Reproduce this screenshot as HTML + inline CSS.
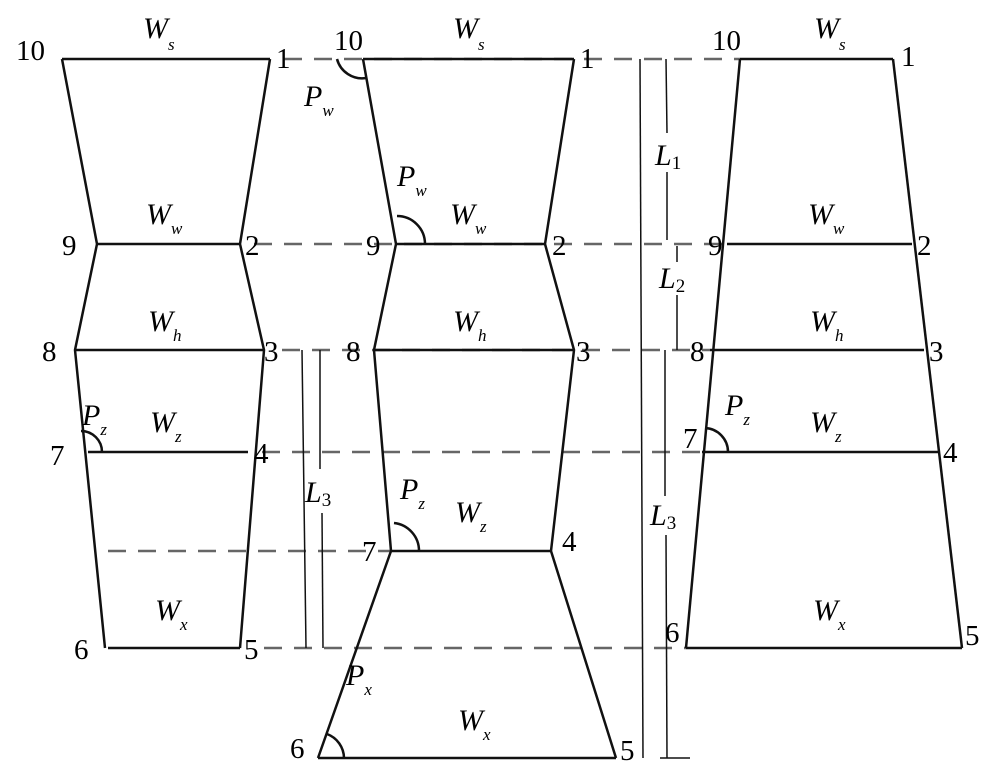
<!DOCTYPE html>
<html><head><style>body{margin:0;background:#fff}svg{display:block}</style></head><body>
<svg width="1000" height="778" viewBox="0 0 1000 778" xmlns="http://www.w3.org/2000/svg" font-family="Liberation Serif, serif">
<g stroke="#666" stroke-width="2.5" stroke-dasharray="18,12" fill="none">
<line x1="284" y1="59" x2="740" y2="59"/>
<line x1="254" y1="244" x2="727" y2="244"/>
<line x1="282" y1="350" x2="710" y2="350"/>
<line x1="262" y1="452" x2="702" y2="452"/>
<line x1="108" y1="551" x2="392" y2="551"/>
<line x1="264" y1="648" x2="686" y2="648"/>
</g>
<g stroke="#111" stroke-width="1.5" fill="none">
<line x1="640" y1="59" x2="643" y2="758"/>
<line x1="660" y1="758" x2="690" y2="758"/>
<line x1="666" y1="59" x2="667" y2="133"/><line x1="667" y1="172" x2="667" y2="240"/>
<line x1="677" y1="246" x2="677" y2="262"/><line x1="677" y1="295" x2="677" y2="350"/>
<line x1="665" y1="350" x2="665" y2="496"/><line x1="666" y1="535" x2="667" y2="758"/>
<line x1="302" y1="350" x2="306" y2="648"/>
<line x1="320" y1="350" x2="320" y2="469"/><line x1="322" y1="513" x2="323" y2="648"/>
</g>
<g stroke="#111" stroke-width="2.5" fill="none">
<polyline points="62,59 270,59"/>
<line x1="97" y1="244" x2="240" y2="244"/><line x1="75" y1="350" x2="264" y2="350"/>
<line x1="88" y1="452" x2="248" y2="452"/><line x1="108" y1="648" x2="240" y2="648"/>
<polyline points="62,59 97,244 75,350 105,648"/>
<polyline points="270,59 240,244 264,350 240,648"/>
<path d="M81,431 A21,21 0 0 1 102,452"/>
<line x1="363" y1="59" x2="574" y2="59"/>
<line x1="396" y1="244" x2="545" y2="244"/><line x1="374" y1="350" x2="574" y2="350"/>
<line x1="391" y1="551" x2="551" y2="551"/><line x1="318" y1="758" x2="616" y2="758"/>
<polyline points="363,59 396,244 374,350 391,551 318,758"/>
<polyline points="574,59 545,244 574,350 551,551 616,758"/>
<path d="M337,59 A26,26 0 0 0 366,78"/>
<path d="M397,216 A28,28 0 0 1 425,244"/>
<path d="M394,523 A28,28 0 0 1 419,551"/>
<path d="M327,734 A26,26 0 0 1 344,758"/>
<line x1="740" y1="59" x2="893" y2="59"/>
<line x1="727" y1="244" x2="912" y2="244"/><line x1="710" y1="350" x2="924" y2="350"/>
<line x1="702" y1="452" x2="938" y2="452"/><line x1="686" y1="648" x2="962" y2="648"/>
<line x1="740" y1="59" x2="686" y2="648"/><line x1="893" y1="59" x2="962" y2="648"/>
<path d="M705,428 A24,24 0 0 1 728,452"/>
</g>
<g font-size="29" fill="#000">
<text x="16" y="60">10</text><text x="276" y="68">1</text>
<text x="62" y="255">9</text><text x="245" y="255">2</text>
<text x="42" y="361">8</text><text x="264" y="361">3</text>
<text x="50" y="465">7</text><text x="254" y="463">4</text>
<text x="74" y="659">6</text><text x="244" y="659">5</text>
<text x="334" y="50">10</text><text x="580" y="68">1</text>
<text x="366" y="255">9</text><text x="552" y="255">2</text>
<text x="346" y="361">8</text><text x="576" y="361">3</text>
<text x="362" y="561">7</text><text x="562" y="551">4</text>
<text x="290" y="758">6</text><text x="620" y="760">5</text>
<text x="712" y="50">10</text><text x="901" y="66">1</text>
<text x="708" y="255">9</text><text x="917" y="255">2</text>
<text x="690" y="361">8</text><text x="929" y="361">3</text>
<text x="683" y="448">7</text><text x="943" y="462">4</text>
<text x="665" y="642">6</text><text x="965" y="645">5</text>
</g>
<g font-size="30" font-style="italic" fill="#000">
<text x="143" y="38">W<tspan font-size="17" dy="12">s</tspan></text>
<text x="146" y="224">W<tspan font-size="17" dy="10">w</tspan></text>
<text x="148" y="331">W<tspan font-size="17" dy="10">h</tspan></text>
<text x="150" y="432">W<tspan font-size="17" dy="10">z</tspan></text>
<text x="155" y="620">W<tspan font-size="17" dy="10">x</tspan></text>
<text x="82" y="425">P<tspan font-size="17" dy="10">z</tspan></text>
<text x="453" y="38">W<tspan font-size="17" dy="12">s</tspan></text>
<text x="450" y="224">W<tspan font-size="17" dy="10">w</tspan></text>
<text x="453" y="331">W<tspan font-size="17" dy="10">h</tspan></text>
<text x="455" y="522">W<tspan font-size="17" dy="10">z</tspan></text>
<text x="458" y="730">W<tspan font-size="17" dy="10">x</tspan></text>
<text x="304" y="106">P<tspan font-size="17" dy="10">w</tspan></text>
<text x="397" y="186">P<tspan font-size="17" dy="10">w</tspan></text>
<text x="400" y="499">P<tspan font-size="17" dy="10">z</tspan></text>
<text x="346" y="685">P<tspan font-size="17" dy="10">x</tspan></text>
<text x="814" y="38">W<tspan font-size="17" dy="12">s</tspan></text>
<text x="808" y="224">W<tspan font-size="17" dy="10">w</tspan></text>
<text x="810" y="331">W<tspan font-size="17" dy="10">h</tspan></text>
<text x="810" y="432">W<tspan font-size="17" dy="10">z</tspan></text>
<text x="813" y="620">W<tspan font-size="17" dy="10">x</tspan></text>
<text x="725" y="415">P<tspan font-size="17" dy="10">z</tspan></text>
<text x="655" y="165">L<tspan font-style="normal" font-size="19" dy="4">1</tspan></text>
<text x="659" y="288">L<tspan font-style="normal" font-size="19" dy="4">2</tspan></text>
<text x="305" y="502">L<tspan font-style="normal" font-size="19" dy="4">3</tspan></text>
<text x="650" y="525">L<tspan font-style="normal" font-size="19" dy="4">3</tspan></text>
</g>
</svg>
</body></html>
